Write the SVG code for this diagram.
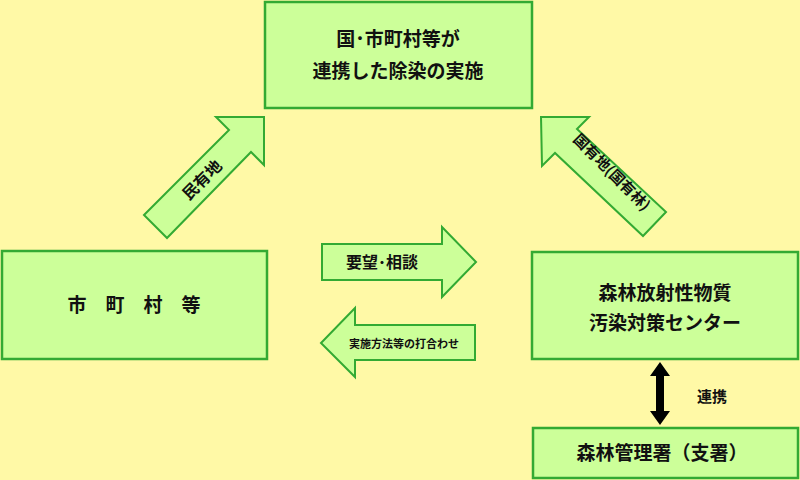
<svg xmlns="http://www.w3.org/2000/svg" width="800" height="480" viewBox="0 0 800 480">
<style>
.b{fill:#ccff99;stroke:#33aa33;stroke-width:2.5}
.a{fill:#ccff99;stroke:#33aa33;stroke-width:2}
text{font-family:"Noto Sans CJK JP",sans-serif;font-weight:bold;fill:#111;text-anchor:middle}
.t{font-size:19px}
</style>
<rect width="800" height="480" fill="#fff9a6"/>
<g id="top"><rect class="b" x="265" y="2" width="267" height="106"/><text class="t" x="398" y="46">国･市町村等が</text><text class="t" x="398" y="78">連携した除染の実施</text></g>
<g id="left"><rect class="b" x="2" y="251" width="265" height="108"/><text class="t" x="134" y="312">市　町　村　等</text></g>
<g id="right"><rect class="b" x="532" y="252" width="266" height="107"/><text class="t" x="665" y="300">森林放射性物質</text><text class="t" x="665" y="330">汚染対策センター</text></g>
<g id="bottom"><rect class="b" x="533" y="428" width="265" height="50"/><text class="t" x="662" y="460">森林管理署（支署）</text></g>
<g id="connectors">
<polygon class="a" points="144,215 229,130 216,117 264,117 264,165 251,152 167,238"/>
<text x="0" y="0" font-size="16" transform="translate(206,184) rotate(-45)">民有地</text>
<polygon class="a" points="541,117 589,117 577,129 666,212 643,236 555,153 542,166"/>
<text x="0" y="0" font-size="15" transform="translate(608,176) rotate(45)">国有地(国有林)</text>
<polygon class="a" points="322,244 442,244 442,227 476,262 442,297 442,280 322,280"/>
<text x="382" y="268" font-size="16">要望･相談</text>
<polygon class="a" points="475,325 355,325 355,308 321,343 355,377 355,360 475,360"/>
<text x="404" y="348" font-size="11">実施方法等の打合わせ</text>
<polygon fill="#000" points="660,362 670,376 664,376 664,411 670,411 660,425 650,411 656,411 656,376 650,376"/>
<text x="712" y="402" font-size="15">連携</text>
</g>
</svg>
